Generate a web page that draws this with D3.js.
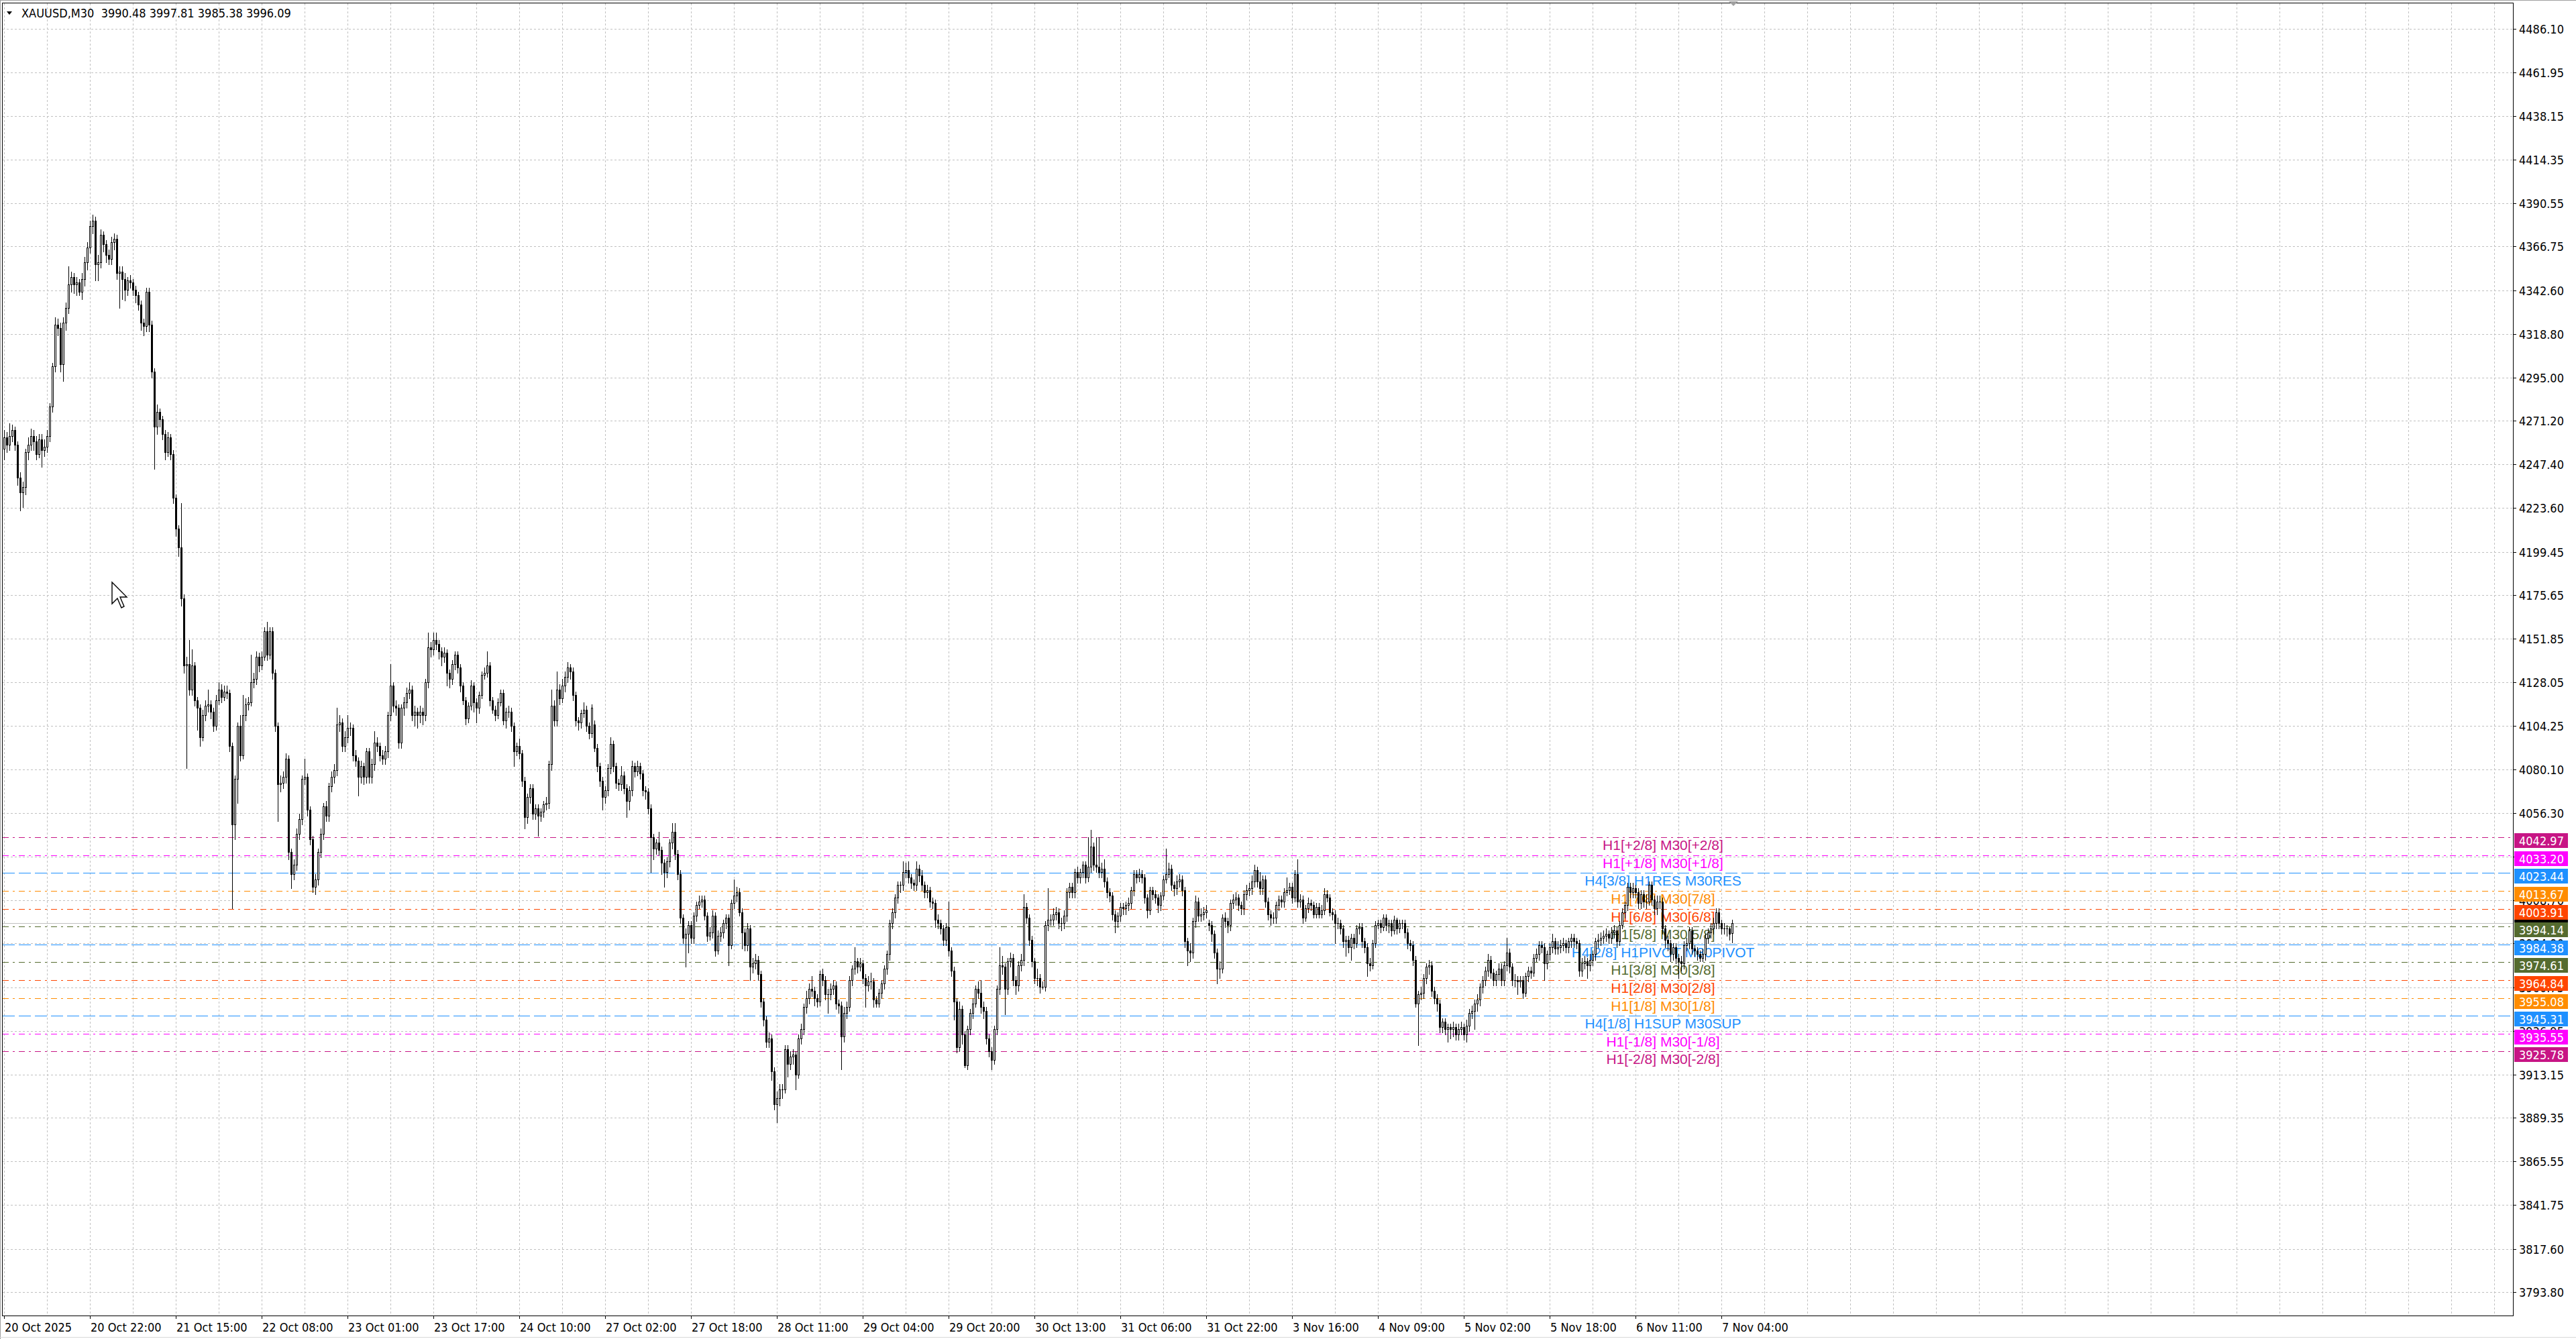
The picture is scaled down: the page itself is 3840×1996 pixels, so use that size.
<!DOCTYPE html>
<html><head><meta charset="utf-8">
<script src="https://cdn.jsdelivr.net/npm/d3@7"></script>
<style>
html,body{margin:0;padding:0;background:#fff;overflow:hidden;}
svg{display:block;}
.ax{font-family:"DejaVu Sans Condensed","DejaVu Sans",sans-serif;font-stretch:condensed;font-size:18px;}
.lv{font-family:"Liberation Sans",Arial,sans-serif;font-size:21px;}
</style></head><body>
<svg id="chart" width="3840" height="1996"></svg>
<script>
const symbolTitle = "XAUUSD,M30";
const lastOHLC = ["3990.48","3997.81","3985.38","3996.09"];
const bidPrice = 3996.09;

const opens = [
4256,4262,4258,4263,4266,4258,4240,4232,4235,4254,4258,4263,4260,4253,4261,4255,4257,4263,4279,4301,
4324,4322,4302,4325,4333,4346,4350,4346,4347,4342,4349,4358,4366,4378,4381,4357,4358,4373,4368,4362,
4360,4369,4371,4352,4353,4349,4343,4348,4347,4343,4340,4335,4325,4323,4342,4324,4298,4268,4276,4272,
4264,4254,4262,4253,4229,4212,4202,4174,4137,4138,4124,4137,4118,4114,4098,4110,4115,4116,4112,4104,
4118,4124,4120,4123,4122,4093,4050,4075,4104,4088,4110,4116,4117,4128,4130,4142,4137,4142,4156,4143,
4156,4133,4104,4072,4073,4076,4086,4035,4023,4028,4045,4053,4075,4076,4058,4042,4016,4020,4035,4045,
4060,4055,4071,4076,4080,4105,4106,4093,4098,4103,4103,4088,4085,4076,4082,4076,4090,4076,4083,4095,
4093,4088,4086,4090,4110,4126,4115,4114,4095,4114,4117,4122,4124,4110,4112,4110,4112,4110,4128,4147,
4146,4151,4149,4145,4142,4144,4133,4130,4138,4143,4136,4126,4118,4108,4115,4126,4117,4114,4121,4132,
4133,4137,4118,4113,4110,4117,4122,4107,4112,4112,4104,4090,4093,4089,4074,4054,4065,4070,4056,4059,
4055,4057,4061,4062,4083,4115,4107,4124,4119,4126,4131,4136,4134,4121,4107,4106,4111,4113,4104,4100,
4105,4092,4082,4074,4065,4069,4081,4094,4082,4073,4072,4077,4070,4063,4069,4082,4079,4082,4078,4069,
4068,4059,4043,4037,4040,4036,4029,4024,4030,4040,4046,4034,4023,3999,3988,3990,3995,3988,4000,4006,
4008,4009,4000,3989,3991,4000,3981,3989,3991,3996,3999,3984,4007,4011,4013,4002,3991,3984,3993,3972,
3974,3976,3968,3953,3943,3931,3933,3915,3897,3900,3905,3905,3927,3919,3923,3924,3913,3933,3938,3950,
3955,3960,3959,3955,3953,3968,3965,3957,3957,3960,3962,3952,3951,3934,3947,3950,3965,3971,3975,3972,
3974,3966,3962,3964,3964,3954,3952,3958,3963,3971,3979,3996,4002,4010,4017,4017,4024,4025,4021,4018,
4017,4026,4022,4017,4013,4014,4008,4007,3998,3996,3993,3987,3994,3981,3970,3953,3928,3949,3935,3918,
3938,3947,3952,3960,3958,3950,3948,3933,3926,3921,3938,3960,3973,3972,3960,3975,3977,3965,3962,3973,
3976,4005,3999,3987,3975,3966,3966,3961,3961,3995,3998,3998,4001,4002,3996,3996,4000,4013,4016,4013,
4024,4021,4024,4028,4021,4027,4038,4028,4027,4024,4026,4019,4013,4011,4001,3997,4000,4005,4004,4006,
4007,4014,4023,4021,4023,4021,4010,4003,4014,4012,4010,4006,4011,4020,4023,4026,4017,4015,4019,4020,
4014,3986,3981,3980,3997,4008,4000,4001,4002,3996,3995,3990,3980,3971,3971,3999,3997,3995,4007,4009,
4010,4006,4004,4012,4014,4015,4019,4025,4019,4015,4020,4008,4001,3999,3999,4006,4009,4008,4013,4014,
4016,4010,4023,4008,4009,3999,4004,4007,4006,4001,4005,4001,4003,4012,4010,4002,4001,3996,3996,3993,
3986,3987,3983,3988,3985,3993,3994,3986,3983,3974,3973,3985,3995,3996,3994,3999,3995,3996,3992,3998,
3993,3996,3996,3991,3985,3984,3976,3952,3957,3958,3966,3972,3973,3959,3955,3952,3939,3942,3938,3939,
3938,3939,3935,3938,3939,3935,3940,3947,3948,3952,3954,3961,3965,3970,3976,3969,3965,3968,3971,3965,
3973,3980,3972,3965,3965,3964,3965,3958,3967,3970,3969,3977,3979,3984,3983,3974,3979,3983,3986,3982,
3983,3984,3985,3983,3986,3988,3986,3985,3970,3974,3975,3973,3976,3979,3986,3987,3988,3989,3990,3988,
3991,3992,3986,3995,4002,4006,4016,4013,4015,4013,4007,4012,4008,4008,4017,4009,4004,4008,4008,3993,
3987,3985,3979,3983,3977,3975,3974,3984,3985,3992,3982,3981,3979,3977,3979,3988,3991,3993,3996,4002,
3996,3993,3993,3993,3990.48];

const highs = [
4266,4265,4270,4269,4268,4260,4243,4238,4256,4262,4267,4266,4263,4264,4264,4261,4266,4281,4303,4328,
4327,4325,4328,4336,4356,4353,4352,4350,4349,4352,4361,4369,4381,4384,4383,4362,4376,4375,4370,4365,
4372,4374,4373,4356,4356,4352,4350,4351,4349,4345,4342,4337,4327,4344,4344,4326,4300,4280,4278,4274,
4266,4265,4264,4255,4231,4214,4226,4176,4142,4151,4146,4139,4120,4116,4113,4118,4124,4118,4114,4121,
4128,4127,4126,4126,4124,4095,4077,4106,4110,4121,4119,4120,4143,4133,4145,4144,4145,4158,4161,4158,
4158,4135,4106,4077,4079,4089,4088,4037,4031,4048,4056,4077,4086,4078,4060,4044,4023,4037,4048,4062,
4063,4073,4079,4083,4114,4110,4108,4101,4110,4106,4105,4091,4087,4085,4084,4092,4092,4086,4101,4098,
4095,4091,4093,4112,4138,4128,4118,4116,4116,4120,4125,4128,4126,4115,4114,4115,4114,4130,4155,4150,
4155,4155,4151,4147,4147,4146,4135,4140,4145,4145,4138,4128,4120,4117,4129,4128,4119,4123,4134,4136,
4145,4139,4120,4115,4119,4124,4124,4114,4115,4114,4106,4095,4097,4091,4076,4067,4072,4072,4061,4061,
4059,4063,4065,4085,4124,4118,4134,4127,4130,4134,4139,4138,4136,4123,4109,4113,4117,4115,4106,4116,
4107,4094,4084,4076,4071,4083,4098,4096,4084,4075,4082,4079,4072,4071,4085,4084,4085,4084,4080,4071,
4070,4061,4045,4042,4046,4038,4031,4032,4042,4051,4051,4036,4025,4001,3993,3997,3997,4002,4008,4011,
4011,4011,4002,3994,4003,4002,3992,3994,3998,4001,4001,4009,4020,4016,4015,4004,3993,3996,3995,3977,
3979,3978,3970,3955,3945,3936,3935,3917,3904,3908,3908,3929,3929,3926,3927,3926,3935,3941,3952,3959,
3963,3967,3961,3957,3970,3971,3967,3960,3963,3965,3964,3954,3953,3950,3953,3967,3973,3983,3977,3977,
3976,3968,3967,3969,3966,3956,3960,3965,3973,3981,3998,4004,4012,4019,4019,4030,4029,4030,4023,4020,
4030,4028,4025,4019,4017,4016,4010,4009,4001,3998,3995,3996,4008,3983,3972,3955,3953,3951,3937,3940,
3949,3955,3962,3964,3965,3953,3950,3935,3928,3940,3962,3983,3978,3974,3977,3980,3979,3967,3975,3979,
4012,4007,4001,3989,3977,3971,3968,3964,3997,4015,4001,4004,4005,4004,3999,4003,4015,4018,4018,4026,
4027,4026,4030,4030,4043,4047,4040,4043,4043,4029,4031,4021,4015,4013,4003,4002,4007,4007,4008,4010,
4016,4025,4025,4026,4025,4023,4012,4016,4016,4014,4012,4013,4022,4037,4029,4028,4019,4022,4023,4022,
4016,3988,3985,3999,4011,4010,4004,4005,4006,3998,3997,3992,3982,3975,4001,4002,3999,4009,4012,4013,
4012,4008,4014,4017,4018,4022,4028,4027,4024,4022,4022,4010,4003,4002,4008,4011,4011,4015,4021,4018,
4018,4025,4031,4012,4011,4006,4010,4009,4008,4007,4007,4006,4015,4014,4012,4004,4003,3999,3998,3995,
3989,3989,3990,3990,3995,3996,3996,3988,3985,3977,3987,3997,3998,3998,4001,4001,3998,3998,4000,3999,
3998,3998,3998,3993,3987,3986,3978,3959,3961,3968,3974,3976,3975,3961,3957,3954,3944,3944,3941,3941,
3942,3941,3941,3942,3941,3943,3949,3951,3954,3957,3963,3967,3972,3979,3978,3971,3970,3974,3974,3975,
3988,3982,3974,3968,3967,3967,3967,3969,3972,3972,3979,3982,3986,3986,3985,3981,3985,3990,3988,3986,
3987,3988,3987,3988,3990,3990,3988,3987,3977,3978,3977,3979,3981,3988,3990,3991,3992,3993,3992,3994,
3995,3994,3997,4004,4008,4018,4018,4018,4017,4015,4014,4014,4012,4019,4019,4011,4011,4011,4010,3995,
3989,3987,3985,3985,3979,3978,3986,3988,3994,3994,3984,3983,3981,3982,3990,3993,3996,3999,4004,4004,
3998,3996,3995,3994,3997.81];

const lows = [
4250,4254,4255,4260,4255,4236,4222,4224,4231,4250,4255,4255,4250,4251,4246,4252,4254,4260,4276,4298,
4318,4298,4293,4321,4330,4342,4341,4340,4340,4338,4345,4354,4363,4374,4348,4348,4355,4364,4358,4357,
4357,4365,4349,4333,4338,4337,4340,4344,4340,4336,4332,4321,4318,4320,4320,4295,4245,4264,4268,4261,
4250,4252,4250,4226,4208,4197,4170,4133,4081,4121,4121,4115,4102,4093,4096,4107,4112,4108,4101,4102,
4116,4117,4118,4119,4090,4004,4042,4062,4085,4086,4107,4113,4115,4125,4127,4134,4135,4140,4140,4141,
4130,4101,4052,4068,4070,4073,4031,4015,4020,4025,4042,4050,4072,4055,4039,4013,4012,4017,4032,4042,
4052,4052,4068,4073,4077,4101,4090,4090,4095,4099,4085,4082,4066,4073,4072,4073,4073,4073,4080,4090,
4085,4083,4083,4087,4107,4112,4110,4092,4092,4110,4114,4119,4107,4104,4103,4106,4105,4107,4125,4142,
4143,4146,4141,4137,4139,4126,4125,4127,4135,4133,4123,4116,4105,4106,4113,4112,4106,4111,4119,4130,
4131,4115,4111,4107,4108,4115,4105,4103,4109,4101,4082,4088,4086,4071,4048,4051,4062,4053,4053,4044,
4052,4054,4058,4059,4080,4104,4104,4116,4117,4123,4128,4130,4118,4104,4102,4103,4109,4101,4097,4098,
4090,4079,4071,4058,4062,4066,4078,4079,4070,4069,4069,4067,4054,4058,4066,4076,4077,4075,4066,4064,
4056,4024,4031,4034,4033,4023,4016,4021,4027,4037,4031,4020,3996,3985,3972,3980,3985,3985,3997,4004,
4005,3998,3986,3987,3988,3978,3979,3986,3988,3993,3973,3982,4004,4008,4000,3982,3981,3981,3965,3969,
3971,3965,3950,3940,3928,3928,3910,3894,3887,3896,3900,3903,3912,3916,3919,3905,3911,3930,3935,3947,
3952,3956,3951,3950,3951,3962,3954,3947,3954,3957,3949,3947,3916,3931,3944,3948,3962,3968,3969,3970,
3963,3950,3959,3960,3950,3950,3950,3955,3960,3968,3976,3993,3999,4007,4013,4014,4021,4018,4015,4014,
4014,4019,4014,4010,4010,4005,4004,3994,3993,3990,3984,3984,3978,3967,3943,3925,3926,3930,3917,3916,
3935,3944,3950,3955,3947,3944,3930,3923,3916,3919,3935,3957,3968,3946,3957,3972,3962,3957,3959,3970,
3973,3996,3984,3972,3963,3962,3958,3960,3959,3992,3995,3995,3998,3993,3992,3993,3997,4010,4010,4010,
4018,4018,4021,4018,4019,4024,4025,4024,4021,4021,4016,4010,4008,3998,3991,3994,3997,4001,4001,4003,
4004,4011,4018,4019,4018,4007,3999,4001,4009,4007,4002,4003,4009,4018,4021,4014,4011,4012,4016,4011,
3983,3973,3975,3977,3994,3997,3997,3998,3999,3992,3986,3977,3963,3966,3969,3994,3991,3992,4004,4006,
4003,4001,4001,4009,4011,4012,4016,4016,4012,4012,4005,3998,3995,3996,3996,4003,4005,4005,4011,4012,
4007,4008,4005,4005,3996,3997,4002,4003,3999,3999,3999,3999,4001,4008,4000,3998,3985,3993,3990,3983,
3978,3980,3976,3982,3983,3990,3983,3980,3967,3970,3971,3983,3993,3991,3992,3992,3991,3989,3990,3990,
3991,3993,3988,3982,3981,3973,3950,3929,3954,3955,3963,3968,3956,3952,3948,3936,3936,3935,3931,3933,
3934,3932,3932,3935,3932,3931,3937,3944,3938,3948,3951,3958,3962,3967,3966,3962,3962,3965,3962,3962,
3970,3969,3962,3961,3957,3961,3955,3956,3964,3966,3967,3975,3976,3980,3965,3971,3976,3980,3979,3979,
3980,3981,3980,3980,3983,3983,3982,3967,3967,3971,3966,3970,3973,3976,3983,3984,3985,3986,3985,3985,
3988,3983,3984,3993,3999,4003,4010,4010,4010,4004,4004,4005,4004,4006,4006,4001,4001,4004,3990,3983,
3981,3975,3976,3974,3966,3970,3971,3981,3982,3979,3978,3976,3975,3975,3976,3985,3988,3990,3993,3993,
3990,3990,3989,3987,3985.38];

const closes = [
4262,4258,4263,4266,4258,4240,4232,4235,4254,4258,4263,4260,4253,4261,4255,4257,4263,4279,4301,4324,
4322,4302,4325,4333,4346,4350,4346,4347,4342,4349,4358,4366,4378,4381,4357,4358,4373,4368,4362,4360,
4369,4371,4352,4353,4349,4343,4348,4347,4343,4340,4335,4325,4323,4342,4324,4298,4268,4276,4272,4264,
4254,4262,4253,4229,4212,4202,4174,4137,4138,4124,4137,4118,4114,4098,4110,4115,4116,4112,4104,4118,
4124,4120,4123,4122,4093,4050,4075,4104,4088,4110,4116,4117,4128,4130,4142,4137,4142,4156,4143,4156,
4133,4104,4072,4073,4076,4086,4035,4023,4028,4045,4053,4075,4076,4058,4042,4016,4020,4035,4045,4060,
4055,4071,4076,4080,4105,4106,4093,4098,4103,4103,4088,4085,4076,4082,4076,4090,4076,4083,4095,4093,
4088,4086,4090,4110,4126,4115,4114,4095,4114,4117,4122,4124,4110,4112,4110,4112,4110,4128,4147,4146,
4151,4149,4145,4142,4144,4133,4130,4138,4143,4136,4126,4118,4108,4115,4126,4117,4114,4121,4132,4133,
4137,4118,4113,4110,4117,4122,4107,4112,4112,4104,4090,4093,4089,4074,4054,4065,4070,4056,4059,4055,
4057,4061,4062,4083,4115,4107,4124,4119,4126,4131,4136,4134,4121,4107,4106,4111,4113,4104,4100,4114,
4092,4082,4074,4065,4069,4081,4094,4082,4073,4072,4077,4070,4063,4069,4082,4079,4082,4078,4069,4068,
4059,4043,4037,4040,4036,4029,4024,4030,4040,4046,4034,4023,3999,3988,3990,3995,3988,4000,4006,4008,
4009,4000,3989,3991,4000,3981,3989,3991,3996,3999,3984,4007,4011,4013,4002,3991,3984,3993,3972,3974,
3976,3968,3953,3943,3931,3933,3915,3897,3900,3905,3905,3927,3919,3923,3924,3913,3933,3938,3950,3955,
3960,3959,3955,3953,3968,3965,3957,3957,3960,3962,3952,3951,3934,3947,3950,3965,3971,3975,3972,3974,
3966,3962,3964,3964,3954,3952,3958,3963,3971,3979,3996,4002,4010,4017,4017,4024,4025,4021,4018,4017,
4026,4022,4017,4013,4014,4008,4007,3998,3996,3993,3987,3994,3981,3970,3953,3928,3949,3935,3918,3938,
3947,3952,3960,3958,3950,3948,3933,3926,3921,3938,3960,3973,3972,3960,3975,3977,3965,3962,3973,3976,
4005,3999,3987,3975,3966,3966,3961,3961,3995,3998,3998,4001,4002,3996,3996,4000,4013,4016,4013,4024,
4021,4024,4028,4021,4027,4038,4028,4027,4024,4026,4019,4013,4011,4001,3997,4000,4005,4004,4006,4007,
4014,4023,4021,4023,4021,4010,4003,4014,4012,4010,4006,4011,4020,4023,4026,4017,4015,4019,4020,4014,
3986,3981,3980,3997,4008,4000,4001,4002,4003,3995,3990,3980,3971,3971,3999,3997,3995,4007,4009,4010,
4006,4004,4012,4014,4015,4019,4025,4019,4015,4020,4008,4001,3999,3999,4006,4009,4008,4013,4014,4016,
4010,4023,4008,4009,3999,4004,4007,4006,4001,4005,4001,4003,4012,4010,4002,4001,3996,3996,3993,3986,
3987,3983,3988,3985,3993,3994,3986,3983,3974,3973,3985,3995,3996,3994,3999,3995,3996,3992,3998,3993,
3996,3996,3991,3985,3984,3976,3952,3957,3958,3966,3972,3973,3959,3955,3952,3939,3942,3938,3939,3938,
3939,3935,3938,3939,3935,3940,3947,3948,3952,3954,3961,3965,3970,3976,3969,3965,3968,3971,3965,3973,
3980,3972,3965,3965,3964,3965,3958,3967,3970,3969,3977,3979,3984,3983,3974,3979,3983,3986,3982,3983,
3984,3985,3983,3986,3988,3986,3985,3970,3974,3975,3973,3976,3979,3986,3987,3988,3989,3990,3988,3991,
3992,3986,3995,4002,4006,4016,4013,4015,4013,4007,4012,4008,4008,4017,4009,4004,4008,4008,3993,3987,
3985,3979,3983,3977,3975,3974,3984,3985,3992,3982,3981,3979,3977,3979,3988,3991,3993,3996,4002,3996,
3993,3993,3993,3990,3996.09];

const priceTicks = [4486.10,4461.95,4438.15,4414.35,4390.55,4366.75,4342.60,4318.80,4295.00,4271.20,
4247.40,4223.60,4199.45,4175.65,4151.85,4128.05,4104.25,4080.10,4056.30,4032.50,4008.70,3984.90,
3960.75,3936.95,3913.15,3889.35,3865.55,3841.75,3817.60,3793.80];

const timeLabels = ["20 Oct 2025","20 Oct 22:00","21 Oct 15:00","22 Oct 08:00","23 Oct 01:00","23 Oct 17:00",
"24 Oct 10:00","27 Oct 02:00","27 Oct 18:00","28 Oct 11:00","29 Oct 04:00","29 Oct 20:00","30 Oct 13:00",
"31 Oct 06:00","31 Oct 22:00","3 Nov 16:00","4 Nov 09:00","5 Nov 02:00","5 Nov 18:00","6 Nov 11:00","7 Nov 04:00"];
const barsPerTimeLabel = 32;
const barsPerGridColumn = 16;

const levelPrices = [4042.97,4033.20,4023.44,4013.67,4003.91,3994.14,3984.38,3974.61,3964.84,3955.08,3945.31,3935.55,3925.78];
const levelNames = ["H1[+2/8] M30[+2/8]","H1[+1/8] M30[+1/8]","H4[3/8] H1RES M30RES","H1[7/8] M30[7/8]",
"H1[6/8] M30[6/8]","H1[5/8] M30[5/8]","H4[2/8] H1PIVOT M30PIVOT","H1[3/8] M30[3/8]","H1[2/8] M30[2/8]",
"H1[1/8] M30[1/8]","H4[1/8] H1SUP M30SUP","H1[-1/8] M30[-1/8]","H1[-2/8] M30[-2/8]"];
const levelColors = ["#C71585","#FF00FF","#1E90FF","#FF8C00","#FF4500","#556B2F","#1E90FF","#556B2F","#FF4500","#FF8C00","#1E90FF","#FF00FF","#C71585"];
const levelStyles = ["dashdot","dashdot","dash","dashdot","dashdot","dashdot","dash","dashdot","dashdot","dashdot","dash","dashdot","dashdot"];

// ---------- layout ----------
const W = 3840, H = 1996;
const frame = {left: 3, top: 4, right: 3746, bottom: 1961};
const lastIndex = closes.length - 1;
const x = d3.scaleLinear().domain([0, lastIndex]).range([6, 6 + 4 * lastIndex]);
const y = d3.scaleLinear().domain([3793.80, 4486.10]).range([1926.4, 42.5]);
const px = v => Math.round(v) + 0.5;
const dashes = {dash: "18,6", dashdot: "9,6,3,6"};

const svg = d3.select("#chart");
svg.append("rect").attr("width", W).attr("height", H).attr("fill", "#ffffff");

// outer window border
const outer = svg.append("g").attr("stroke", "#a0a0a0").attr("shape-rendering", "crispEdges");
outer.append("line").attr("x1", 0).attr("x2", W).attr("y1", 0.5).attr("y2", 0.5);
outer.append("line").attr("x1", 0.5).attr("x2", 0.5).attr("y1", 0).attr("y2", H);
outer.append("line").attr("x1", 0).attr("x2", W).attr("y1", H - 2.5).attr("y2", H - 2.5).attr("stroke", "#d8d8d8");

// grid
const grid = svg.append("g").attr("stroke", "#c0c0c0").attr("stroke-dasharray", "3,3").attr("shape-rendering", "crispEdges");
grid.selectAll("line.h").data(priceTicks).join("line").attr("class", "h")
  .attr("x1", frame.left + 1).attr("x2", frame.right)
  .attr("y1", d => px(y(d))).attr("y2", d => px(y(d)));
const gridBars = d3.range(0, 400).map(k => k * barsPerGridColumn).filter(b => x(b) > frame.left + 2 && x(b) < frame.right - 2);
grid.selectAll("line.v").data(gridBars).join("line").attr("class", "v")
  .attr("x1", d => px(x(d))).attr("x2", d => px(x(d)))
  .attr("y1", frame.top + 1).attr("y2", frame.bottom);

// level lines
const lv = svg.append("g").attr("shape-rendering", "crispEdges");
lv.selectAll("line").data(levelPrices).join("line")
  .attr("x1", frame.left + 1).attr("x2", frame.right)
  .attr("y1", d => px(y(d))).attr("y2", d => px(y(d)))
  .attr("stroke", (d, i) => levelColors[i])
  .attr("stroke-dasharray", (d, i) => dashes[levelStyles[i]]);

// bid line
svg.append("line").attr("x1", frame.left + 1).attr("x2", frame.right)
  .attr("y1", px(y(bidPrice))).attr("y2", px(y(bidPrice)))
  .attr("stroke", "#c0c0c0").attr("shape-rendering", "crispEdges");

// level texts
const textX = 2479;
svg.append("g").selectAll("text").data(levelPrices).join("text")
  .attr("class", "lv")
  .attr("x", textX).attr("y", d => Math.round(y(d)) + 19)
  .attr("text-anchor", "middle")
  .attr("fill", (d, i) => levelColors[i])
  .text((d, i) => levelNames[i]);

// candles
const bars = closes.map((c, i) => ({i, o: opens[i], h: highs[i], l: lows[i], c}));
const cg = svg.append("g").attr("shape-rendering", "crispEdges");
cg.selectAll("line.wick").data(bars).join("line").attr("class", "wick")
  .attr("x1", d => Math.round(x(d.i)) + 0.5).attr("x2", d => Math.round(x(d.i)) + 0.5)
  .attr("y1", d => Math.round(y(d.h))).attr("y2", d => Math.round(y(d.l)) + 1)
  .attr("stroke", "#000");
cg.selectAll("rect.bear").data(bars.filter(d => d.c < d.o)).join("rect").attr("class", "bear")
  .attr("x", d => Math.round(x(d.i)) - 1).attr("width", 3)
  .attr("y", d => Math.round(y(d.o)))
  .attr("height", d => Math.max(1, Math.round(y(d.c)) - Math.round(y(d.o)) + 1))
  .attr("fill", "#000");
cg.selectAll("rect.bull").data(bars.filter(d => d.c > d.o)).join("rect").attr("class", "bull")
  .attr("x", d => Math.round(x(d.i)) - 0.5).attr("width", 2)
  .attr("y", d => Math.round(y(d.c)) + 0.5)
  .attr("height", d => Math.max(0, Math.round(y(d.o)) - Math.round(y(d.c))))
  .attr("fill", "#fff").attr("stroke", "#000");
cg.selectAll("line.doji").data(bars.filter(d => d.c === d.o)).join("line").attr("class", "doji")
  .attr("x1", d => Math.round(x(d.i)) - 1).attr("x2", d => Math.round(x(d.i)) + 2)
  .attr("y1", d => px(y(d.c))).attr("y2", d => px(y(d.c)))
  .attr("stroke", "#000");

// frame + axes lines
const fr = svg.append("g").attr("stroke", "#000").attr("shape-rendering", "crispEdges");
fr.append("line").attr("x1", frame.left + 0.5).attr("x2", frame.left + 0.5).attr("y1", frame.top).attr("y2", frame.bottom);
fr.append("line").attr("x1", frame.left).attr("x2", frame.right).attr("y1", frame.top + 0.5).attr("y2", frame.top + 0.5);
fr.append("line").attr("x1", frame.right + 0.5).attr("x2", frame.right + 0.5).attr("y1", frame.top).attr("y2", frame.bottom + 1);
fr.append("line").attr("x1", frame.left).attr("x2", frame.right + 1).attr("y1", frame.bottom + 0.5).attr("y2", frame.bottom + 0.5);

// price axis
const pa = svg.append("g");
pa.selectAll("line").data(priceTicks).join("line")
  .attr("x1", frame.right + 1).attr("x2", frame.right + 5)
  .attr("y1", d => px(y(d))).attr("y2", d => px(y(d)))
  .attr("stroke", "#000").attr("shape-rendering", "crispEdges");
pa.selectAll("text").data(priceTicks).join("text").attr("class", "ax")
  .attr("x", 3755).attr("y", d => Math.round(y(d)) + 7)
  .attr("fill", "#000").text(d => d.toFixed(2));

// bid price box (mostly hidden)
const bidY = Math.round(y(bidPrice));
svg.append("rect").attr("x", 3748).attr("y", bidY - 6).attr("width", 80).attr("height", 22).attr("fill", "#000");
svg.append("text").attr("class", "ax").attr("x", 3755).attr("y", bidY + 12).attr("fill", "#fff").text(bidPrice.toFixed(2));

// level price boxes
const lb = svg.append("g");
lb.selectAll("rect").data(levelPrices).join("rect")
  .attr("x", 3748).attr("y", d => Math.round(y(d)) - 6).attr("width", 80).attr("height", 22)
  .attr("fill", (d, i) => levelColors[i]);
lb.selectAll("text").data(levelPrices).join("text").attr("class", "ax")
  .attr("x", 3755).attr("y", d => Math.round(y(d)) + 12)
  .attr("fill", "#fff").text(d => d.toFixed(2));

// time axis
const ta = svg.append("g");
const timeBars = timeLabels.map((t, k) => k * barsPerTimeLabel);
ta.selectAll("line").data(timeBars).join("line")
  .attr("x1", d => px(x(d))).attr("x2", d => px(x(d)))
  .attr("y1", frame.bottom + 1).attr("y2", frame.bottom + 5)
  .attr("stroke", "#000").attr("shape-rendering", "crispEdges");
ta.selectAll("text").data(timeBars).join("text").attr("class", "ax")
  .attr("x", d => Math.round(x(d)) + 1).attr("y", 1985)
  .attr("fill", "#000").text((d, k) => timeLabels[k]);

// header
svg.append("path").attr("d", "M10,17 L18,17 L14,22 Z").attr("fill", "#000");
svg.append("text").attr("class", "ax").attr("x", 32).attr("y", 26).attr("fill", "#000")
  .attr("xml:space", "preserve").style("white-space", "pre")
  .text(symbolTitle + "  " + lastOHLC.join(" "));

// chart shift marker
svg.append("path").attr("d", "M2577,2 L2591,2 L2584,9 Z").attr("fill", "#a0a0a0");

// mouse cursor
svg.append("path")
  .attr("d", "M0,0 L0,16 L4,12 L7,19 L9,18 L6,11 L11,11 Z")
  .attr("transform", "translate(167,868) scale(2)")
  .attr("fill", "#fff").attr("stroke", "#000").attr("stroke-width", 0.7).attr("stroke-linejoin", "miter");
</script>
</body></html>
